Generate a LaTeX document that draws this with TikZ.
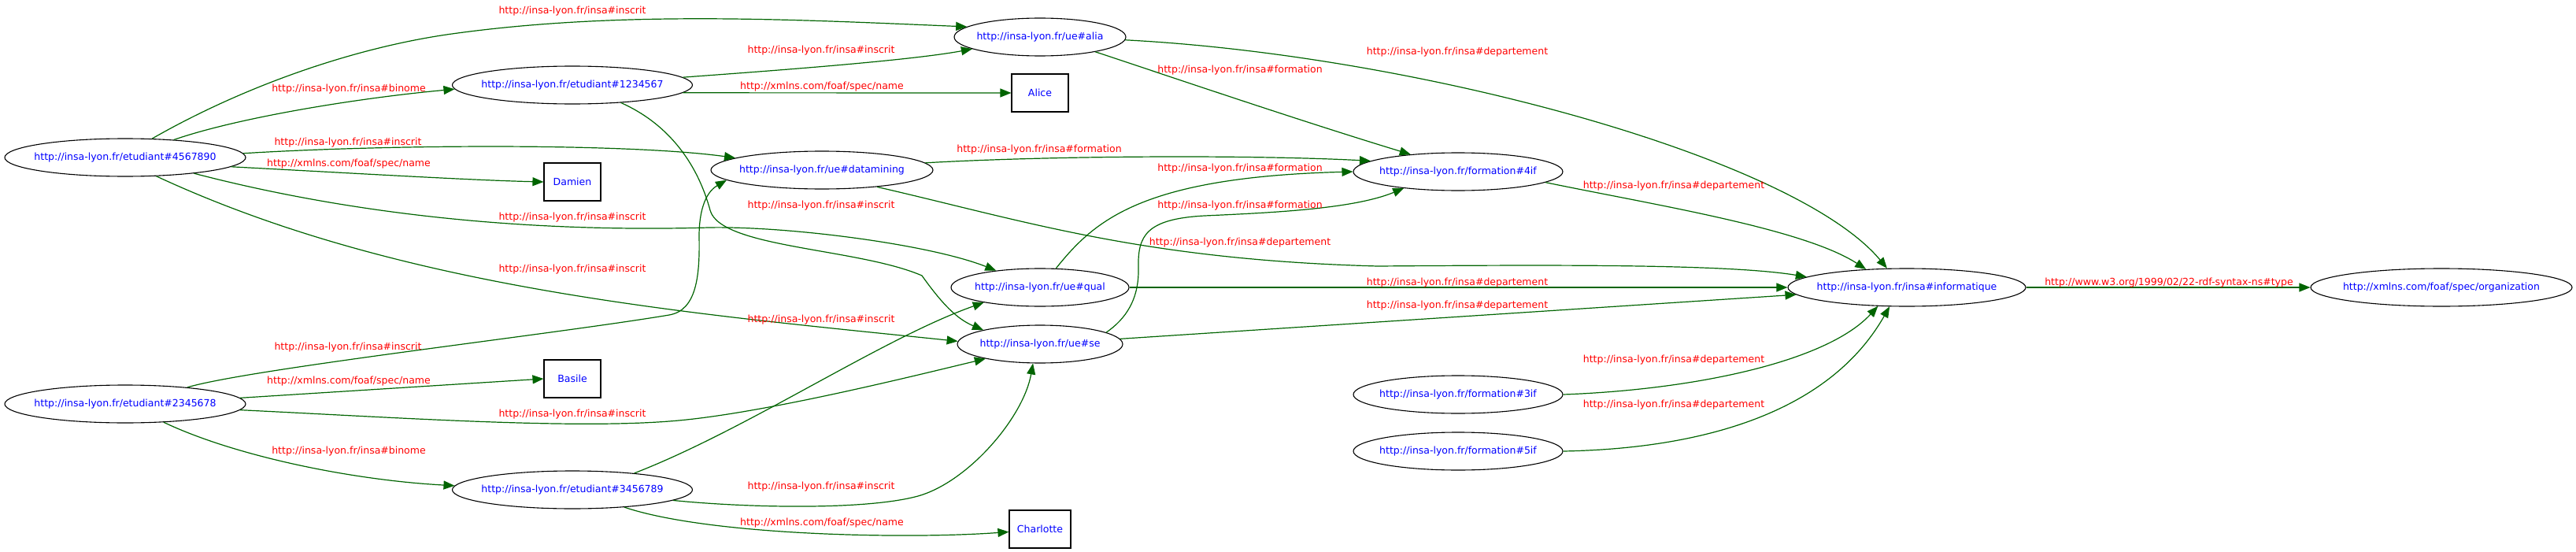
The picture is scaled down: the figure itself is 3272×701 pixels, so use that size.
\documentclass[tikz,border=0pt]{standalone}
\usepackage{fontspec}
\setmainfont{DejaVu Sans}
\usetikzlibrary{shapes.geometric, arrows.meta}
\definecolor{relgreen}{RGB}{0,100,0}
\newcommand{\insa}{http://insa-lyon.fr/insa\#}
\newcommand{\foafname}{http://xmlns.com/foaf/spec/name}

\begin{document}
\begin{tikzpicture}[x=1pt, y=-1pt, >={Triangle[length=14pt,width=11pt]},
    font=\fontsize{12.5}{15}\selectfont,
    res/.style={ellipse, draw, line width=1.1pt, text=blue, minimum height=48pt, inner xsep=-20pt, inner ysep=0pt},
    lit/.style={rectangle, draw, line width=1.1pt, text=blue, minimum width=72pt, minimum height=48pt, inner xsep=10pt},
    rel/.style={->, color=relgreen, line width=1.2pt},
    lbl/.style={text=red, inner sep=0pt}]
            \useasboundingbox (0,0) rectangle (3272,701);

            % Etudiants
            \node[res, minimum width=306pt] (s4567890) at (159,200) {http://insa-lyon.fr/etudiant\#4567890};
            \node[res, minimum width=306pt] (s2345678) at (159,513) {http://insa-lyon.fr/etudiant\#2345678};
            \node[res, minimum width=305pt] (s1234567) at (727,108) {http://insa-lyon.fr/etudiant\#1234567};
            \node[res, minimum width=305pt] (s3456789) at (727,622) {http://insa-lyon.fr/etudiant\#3456789};

            % Noms
            \node[lit] (damien) at (727,231) {Damien};
            \node[lit] (basile) at (727,481) {Basile};
            \node[lit] (alice) at (1321,118) {Alice};
            \node[lit] (charlotte) at (1321,672) {Charlotte};

            % UE
            \node[res, minimum width=218pt] (alia) at (1321,47) {http://insa-lyon.fr/ue\#alia};
            \node[res, minimum width=282pt] (datamining) at (1044,216) {http://insa-lyon.fr/ue\#datamining};
            \node[res, minimum width=226pt] (qual) at (1321,365) {http://insa-lyon.fr/ue\#qual};
            \node[res, minimum width=210pt] (se) at (1321,437) {http://insa-lyon.fr/ue\#se};

            % Formations et departement
            \node[res, minimum width=266pt] (f4if) at (1852,218) {http://insa-lyon.fr/formation\#4if};
            \node[res, minimum width=266pt] (f3if) at (1852,501) {http://insa-lyon.fr/formation\#3if};
            \node[res, minimum width=266pt] (f5if) at (1852,573) {http://insa-lyon.fr/formation\#5if};
            \node[res, minimum width=302pt] (info) at (2422,365) {http://insa-lyon.fr/insa\#informatique};
            \node[res, minimum width=332pt] (orga) at (3101,365) {http://xmlns.com/foaf/spec/organization};

            % Arcs de 4567890
            \draw[rel] (s4567890.35) .. controls (305,112) and (445,61) .. (574,43) .. controls (790,13) and (1011,25) .. (alia.172)
                node[lbl] (t1) at (727,14) {\insa inscrit};
            \draw[rel] (s4567890.20) .. controls (300,150) and (450,125) .. (s1234567.182)
                node[lbl] (t2) at (443,113) {\insa binome};
            \draw[rel] (s4567890.2) .. controls (500,183) and (800,182) .. (datamining.172)
                node[lbl] (t3) at (442,181) {\insa inscrit};
            \draw[rel] (s4567890.-5) .. controls (450,220) and (600,229) .. (damien.west)
                node[lbl] (t4) at (443,208) {\foafname};
            \draw[rel] (s4567890.-13) .. controls (430,268) and (650,296) .. (900,289) .. controls (1000,287) and (1180,310) .. (qual.159)
                node[lbl] (t5) at (727,276) {\insa inscrit};
            \draw[rel] (s4567890.-31) .. controls (509,368) and (876,398) .. (se.178)
                node[lbl] (t6) at (727,342) {\insa inscrit};

            % Arcs de 1234567
            \draw[rel] (s1234567.4) .. controls (950,92) and (1150,78) .. (alia.190)
                node[lbl] (t7) at (1043,64) {\insa inscrit};
            \draw[rel] (s1234567.-4) -- (alice.west)
                node[lbl] (t8) at (1044,110) {\foafname};
            \draw[rel] (s1234567.-20) .. controls (855,160) and (888,215) .. (902,267) .. controls (915,315) and (1090,315) .. (1171,350) .. controls (1196,385) and (1215,405) .. (se.166)
                node[lbl] (t9) at (1043,261) {\insa inscrit};

            % Arcs de 2345678
            \draw[rel] (s2345678.15) .. controls (320,468) and (700,425) .. (850,400) .. controls (885,394) and (889,350) .. (888,300) .. controls (888,270) and (895,245) .. (datamining.186)
                node[lbl] (t10) at (442,441) {\insa inscrit};
            \draw[rel] (s2345678.3) -- (basile.west)
                node[lbl] (t11) at (443,484) {\foafname};
            \draw[rel] (s2345678.-3) .. controls (500,530) and (720,545) .. (850,535) .. controls (960,527) and (1150,480) .. (se.195)
                node[lbl] (t12) at (727,526) {\insa inscrit};
            \draw[rel] (s2345678) .. controls (300,580) and (450,610) .. (s3456789.178)
                node[lbl] (t13) at (443,573) {\insa binome};

            % Arcs de 3456789
            \draw[rel] (s3456789.15) .. controls (950,545) and (1120,430) .. (qual.195)
                node[lbl] (t14) at (1043,406) {\insa inscrit};
            \draw[rel] (s3456789.-6) .. controls (950,645) and (1100,648) .. (1166,630) .. controls (1230,612) and (1300,530) .. (se.250)
                node[lbl] (t15) at (1043,618) {\insa inscrit};
            \draw[rel] (s3456789) .. controls (900,680) and (1150,685) .. (charlotte.185)
                node[lbl] (t16) at (1044,664) {\foafname};

            % Formations
            \draw[rel] (alia.-15) .. controls (1450,85) and (1640,150) .. (f4if.160)
                node[lbl] (t17) at (1575,89) {\insa formation};
            \draw[rel] (datamining.4) .. controls (1350,197) and (1600,197) .. (f4if.173)
                node[lbl] (t18) at (1320,190) {\insa formation};
            \draw[rel] (qual.50) .. controls (1390,280) and (1450,225) .. (f4if.west)
                node[lbl] (t19) at (1575,214) {\insa formation};
            \draw[rel] (se.10) .. controls (1430,405) and (1447,380) .. (1446,340) .. controls (1445,300) and (1455,278) .. (1530,274) .. controls (1620,270) and (1720,265) .. (f4if.197)
                node[lbl] (t20) at (1575,261) {\insa formation};

            % Departement
            \draw[rel] (alia.-2) .. controls (1800,70) and (2280,200) .. (info.136)
                node[lbl] (t21) at (1851,66) {\insa departement};
            \draw[rel] (datamining.-17) .. controls (1300,280) and (1450,330) .. (1750,338) .. controls (2000,336) and (2200,336) .. (info.174)
                node[lbl] (t22) at (1575,308) {\insa departement};
            \draw[rel] (qual) -- (info)
                node[lbl] (t23) at (1851,359) {\insa departement};
            \draw[rel] (se) -- (info)
                node[lbl] (t24) at (1851,388) {\insa departement};
            \draw[rel] (f4if.-7) .. controls (2100,260) and (2290,290) .. (info.156)
                node[lbl] (t25) at (2126,236) {\insa departement};
            \draw[rel] (f3if.east) .. controls (2150,495) and (2320,460) .. (info.213)
                node[lbl] (t26) at (2126,457) {\insa departement};
            \draw[rel] (f5if.east) .. controls (2150,570) and (2320,530) .. (info.228)
                node[lbl] (t27) at (2126,514) {\insa departement};

            % Type
            \draw[rel] (info) -- (orga)
                node[lbl] (t28) at (2755,359) {http://www.w3.org/1999/02/22-rdf-syntax-ns\#type};
        \end{tikzpicture}
\end{document}
